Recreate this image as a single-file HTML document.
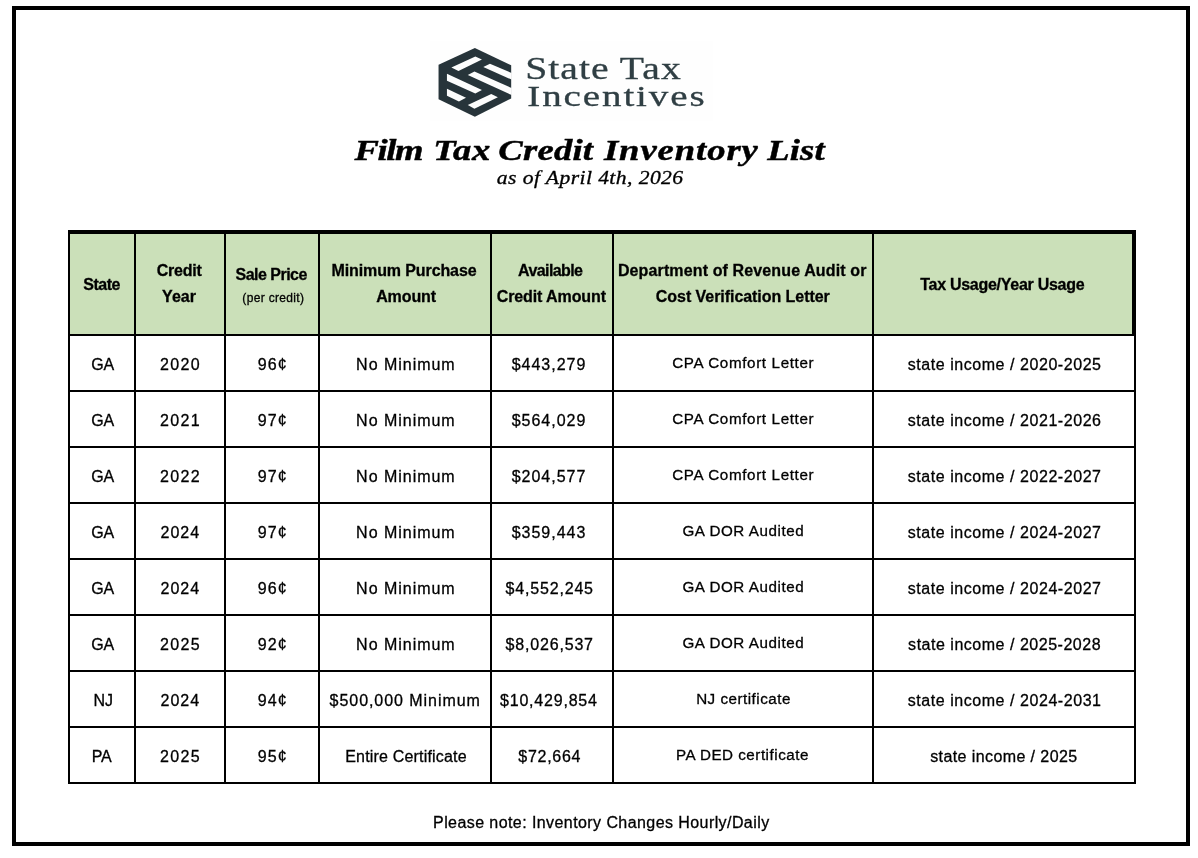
<!DOCTYPE html>
<html lang="en"><head><meta charset="utf-8"><title>Film Tax Credit Inventory List</title>
<style>
html,body{margin:0;padding:0;background:#fff;}
body{width:1198px;height:858px;position:relative;overflow:hidden;font-family:'Liberation Sans',sans-serif;color:#000;}
.t{position:absolute;width:700px;box-sizing:border-box;text-align:center;white-space:nowrap;}
.txt{position:absolute;left:0;top:0;width:1198px;height:858px;will-change:transform;-webkit-text-stroke:0.3px #000;}
.r{position:absolute;background:#000;}
.frame{position:absolute;left:12px;top:6px;width:1178px;height:840px;border:4px solid #000;box-sizing:border-box;}
</style></head><body>
<div class="frame"></div>
<div class="r" style="left:430px;top:41px;width:283px;height:80px;background:#fefefe"></div>
<svg class="r" style="left:435px;top:44px;background:none" width="80" height="76" viewBox="0 0 903 858">
<polygon points="450,45 860,240 860,615 450,820 40,625 40,235" fill="#27343a"/>
<g fill="#fdfdfd">
<polygon points="185,265 455,140 530,175 265,305"/>
<polygon points="545,260 620,222 865,327 865,402"/>
<polygon points="370,350 445,310 865,497 865,577"/>
<polygon points="135,335 530,520 455,560 135,415"/>
<polygon points="135,505 350,608 270,650 135,585"/>
<polygon points="370,690 635,565 710,600 445,730"/>
</g></svg>
<div class="r" style="left:70px;top:234px;width:1062px;height:100px;background:#cbe0b9"></div>
<div class="r" style="left:68px;top:230px;width:1068px;height:4px"></div>
<div class="r" style="left:68px;top:334px;width:1068px;height:2px"></div>
<div class="r" style="left:68px;top:390px;width:1068px;height:2px"></div>
<div class="r" style="left:68px;top:446px;width:1068px;height:2px"></div>
<div class="r" style="left:68px;top:502px;width:1068px;height:2px"></div>
<div class="r" style="left:68px;top:558px;width:1068px;height:2px"></div>
<div class="r" style="left:68px;top:614px;width:1068px;height:2px"></div>
<div class="r" style="left:68px;top:670px;width:1068px;height:2px"></div>
<div class="r" style="left:68px;top:726px;width:1068px;height:2px"></div>
<div class="r" style="left:68px;top:782px;width:1068px;height:2px"></div>
<div class="r" style="left:68px;top:230px;width:2px;height:554px"></div>
<div class="r" style="left:134px;top:230px;width:2px;height:554px"></div>
<div class="r" style="left:224px;top:230px;width:2px;height:554px"></div>
<div class="r" style="left:318px;top:230px;width:2px;height:554px"></div>
<div class="r" style="left:490px;top:230px;width:2px;height:554px"></div>
<div class="r" style="left:612px;top:230px;width:2px;height:554px"></div>
<div class="r" style="left:872px;top:230px;width:2px;height:554px"></div>
<div class="r" style="left:1134px;top:230px;width:2px;height:554px"></div>
<div class="r" style="left:1132px;top:230px;width:4px;height:106px"></div>
<div class="txt">
<div class="t" style="left:253.40px;top:46.61px;line-height:44px;font-size:30.5px;font-family:'Liberation Serif', serif;color:#303f44;letter-spacing:0.786px;padding-left:0.786px;transform:scaleX(1.3);-webkit-text-stroke:0.3px #303f44;">State Tax</div>
<div class="t" style="left:266.05px;top:74.17px;line-height:44px;font-size:30px;font-family:'Liberation Serif', serif;color:#303f44;letter-spacing:1.452px;padding-left:1.452px;transform:scaleX(1.3);-webkit-text-stroke:0.3px #303f44;">Incentives</div>
<div class="t" style="left:239.80px;top:127.57px;line-height:44px;font-size:30px;font-weight:700;font-family:'Liberation Serif', serif;font-style:italic;transform:scaleX(1.22);-webkit-text-stroke:0.45px #000;"><span style="position:relative;left:-0.59px;letter-spacing:-1.154px">Film</span> <span style="position:relative;left:0.96px;letter-spacing:0.593px">Tax</span> <span style="position:relative;left:-0.52px;letter-spacing:0.174px">Credit</span> <span style="position:relative;left:0.81px;letter-spacing:0.773px">Inventory</span> <span style="position:relative;left:0.15px;letter-spacing:0.156px">List</span></div>
<div class="t" style="left:240.00px;top:165.52px;line-height:24px;font-size:18px;font-family:'Liberation Serif', serif;letter-spacing:0.353px;padding-left:0.353px;font-style:italic;transform:scaleX(1.2);">as of April 4th, 2026</div>
<div class="t" style="left:-248.35px;top:272.96px;line-height:24px;font-size:16px;font-weight:700;letter-spacing:-0.5px;">State</div>
<div class="t" style="left:-170.80px;top:258.86px;line-height:24px;font-size:16px;font-weight:700;letter-spacing:-0.24px;">Credit</div>
<div class="t" style="left:-171.00px;top:284.86px;line-height:24px;font-size:16px;font-weight:700;">Year</div>
<div class="t" style="left:-78.80px;top:263.16px;line-height:24px;font-size:16px;font-weight:700;letter-spacing:-0.533px;">Sale Price</div>
<div class="t" style="left:-76.80px;top:286.24px;line-height:24px;font-size:12px;letter-spacing:0.334px;padding-left:0.334px;">(per credit)</div>
<div class="t" style="left:54.00px;top:258.66px;line-height:24px;font-size:16px;font-weight:700;letter-spacing:-0.107px;">Minimum Purchase</div>
<div class="t" style="left:56.10px;top:284.66px;line-height:24px;font-size:16px;font-weight:700;letter-spacing:-0.096px;">Amount</div>
<div class="t" style="left:200.25px;top:258.66px;line-height:24px;font-size:16px;font-weight:700;letter-spacing:-0.6px;">Available</div>
<div class="t" style="left:201.30px;top:284.66px;line-height:24px;font-size:16px;font-weight:700;letter-spacing:-0.107px;">Credit Amount</div>
<div class="t" style="left:392.15px;top:258.56px;line-height:24px;font-size:16px;font-weight:700;letter-spacing:0.127px;padding-left:0.127px;">Department of Revenue Audit or</div>
<div class="t" style="left:392.80px;top:284.86px;line-height:24px;font-size:16px;font-weight:700;letter-spacing:-0.052px;">Cost Verification Letter</div>
<div class="t" style="left:652.30px;top:273.16px;line-height:24px;font-size:16px;font-weight:700;letter-spacing:-0.269px;">Tax Usage/Year Usage</div>
<div class="t" style="left:-247.30px;top:353.06px;line-height:24px;font-size:16px;letter-spacing:-0.2px;">GA</div>
<div class="t" style="left:-170.20px;top:353.06px;line-height:24px;font-size:16px;letter-spacing:1.4px;padding-left:1.4px;">2020</div>
<div class="t" style="left:-77.80px;top:353.06px;line-height:24px;font-size:16px;letter-spacing:1.2px;padding-left:1.2px;">96¢</div>
<div class="t" style="left:55.40px;top:353.06px;line-height:24px;font-size:16px;letter-spacing:0.973px;padding-left:0.973px;">No Minimum</div>
<div class="t" style="left:198.50px;top:353.06px;line-height:24px;font-size:16px;letter-spacing:1.0px;padding-left:1.0px;">$443,279</div>
<div class="t" style="left:392.90px;top:350.83px;line-height:24px;font-size:15.2px;letter-spacing:0.639px;padding-left:0.639px;">CPA Comfort Letter</div>
<div class="t" style="left:654.35px;top:353.06px;line-height:24px;font-size:16px;letter-spacing:0.555px;padding-left:0.555px;">state income / 2020-2025</div>
<div class="t" style="left:-247.30px;top:409.06px;line-height:24px;font-size:16px;letter-spacing:-0.2px;">GA</div>
<div class="t" style="left:-170.20px;top:409.06px;line-height:24px;font-size:16px;letter-spacing:1.4px;padding-left:1.4px;">2021</div>
<div class="t" style="left:-77.80px;top:409.06px;line-height:24px;font-size:16px;letter-spacing:1.2px;padding-left:1.2px;">97¢</div>
<div class="t" style="left:55.40px;top:409.06px;line-height:24px;font-size:16px;letter-spacing:0.973px;padding-left:0.973px;">No Minimum</div>
<div class="t" style="left:198.50px;top:409.06px;line-height:24px;font-size:16px;letter-spacing:1.0px;padding-left:1.0px;">$564,029</div>
<div class="t" style="left:392.90px;top:406.83px;line-height:24px;font-size:15.2px;letter-spacing:0.639px;padding-left:0.639px;">CPA Comfort Letter</div>
<div class="t" style="left:654.35px;top:409.06px;line-height:24px;font-size:16px;letter-spacing:0.555px;padding-left:0.555px;">state income / 2021-2026</div>
<div class="t" style="left:-247.30px;top:465.06px;line-height:24px;font-size:16px;letter-spacing:-0.2px;">GA</div>
<div class="t" style="left:-170.20px;top:465.06px;line-height:24px;font-size:16px;letter-spacing:1.4px;padding-left:1.4px;">2022</div>
<div class="t" style="left:-77.80px;top:465.06px;line-height:24px;font-size:16px;letter-spacing:1.2px;padding-left:1.2px;">97¢</div>
<div class="t" style="left:55.40px;top:465.06px;line-height:24px;font-size:16px;letter-spacing:0.973px;padding-left:0.973px;">No Minimum</div>
<div class="t" style="left:198.50px;top:465.06px;line-height:24px;font-size:16px;letter-spacing:1.0px;padding-left:1.0px;">$204,577</div>
<div class="t" style="left:392.90px;top:462.83px;line-height:24px;font-size:15.2px;letter-spacing:0.639px;padding-left:0.639px;">CPA Comfort Letter</div>
<div class="t" style="left:654.35px;top:465.06px;line-height:24px;font-size:16px;letter-spacing:0.555px;padding-left:0.555px;">state income / 2022-2027</div>
<div class="t" style="left:-247.30px;top:521.06px;line-height:24px;font-size:16px;letter-spacing:-0.2px;">GA</div>
<div class="t" style="left:-170.20px;top:521.06px;line-height:24px;font-size:16px;letter-spacing:0.973px;padding-left:0.973px;">2024</div>
<div class="t" style="left:-77.80px;top:521.06px;line-height:24px;font-size:16px;letter-spacing:1.2px;padding-left:1.2px;">97¢</div>
<div class="t" style="left:55.40px;top:521.06px;line-height:24px;font-size:16px;letter-spacing:0.973px;padding-left:0.973px;">No Minimum</div>
<div class="t" style="left:198.50px;top:521.06px;line-height:24px;font-size:16px;letter-spacing:1.0px;padding-left:1.0px;">$359,443</div>
<div class="t" style="left:393.05px;top:518.83px;line-height:24px;font-size:15.2px;letter-spacing:0.565px;padding-left:0.565px;">GA DOR Audited</div>
<div class="t" style="left:654.35px;top:521.06px;line-height:24px;font-size:16px;letter-spacing:0.555px;padding-left:0.555px;">state income / 2024-2027</div>
<div class="t" style="left:-247.30px;top:577.06px;line-height:24px;font-size:16px;letter-spacing:-0.2px;">GA</div>
<div class="t" style="left:-170.20px;top:577.06px;line-height:24px;font-size:16px;letter-spacing:0.973px;padding-left:0.973px;">2024</div>
<div class="t" style="left:-77.80px;top:577.06px;line-height:24px;font-size:16px;letter-spacing:1.2px;padding-left:1.2px;">96¢</div>
<div class="t" style="left:55.40px;top:577.06px;line-height:24px;font-size:16px;letter-spacing:0.973px;padding-left:0.973px;">No Minimum</div>
<div class="t" style="left:199.30px;top:577.06px;line-height:24px;font-size:16px;letter-spacing:0.822px;padding-left:0.822px;">$4,552,245</div>
<div class="t" style="left:393.05px;top:574.83px;line-height:24px;font-size:15.2px;letter-spacing:0.565px;padding-left:0.565px;">GA DOR Audited</div>
<div class="t" style="left:654.35px;top:577.06px;line-height:24px;font-size:16px;letter-spacing:0.555px;padding-left:0.555px;">state income / 2024-2027</div>
<div class="t" style="left:-247.30px;top:633.06px;line-height:24px;font-size:16px;letter-spacing:-0.2px;">GA</div>
<div class="t" style="left:-170.20px;top:633.06px;line-height:24px;font-size:16px;letter-spacing:1.4px;padding-left:1.4px;">2025</div>
<div class="t" style="left:-77.80px;top:633.06px;line-height:24px;font-size:16px;letter-spacing:1.2px;padding-left:1.2px;">92¢</div>
<div class="t" style="left:55.40px;top:633.06px;line-height:24px;font-size:16px;letter-spacing:0.973px;padding-left:0.973px;">No Minimum</div>
<div class="t" style="left:199.30px;top:633.06px;line-height:24px;font-size:16px;letter-spacing:0.822px;padding-left:0.822px;">$8,026,537</div>
<div class="t" style="left:393.05px;top:630.83px;line-height:24px;font-size:15.2px;letter-spacing:0.565px;padding-left:0.565px;">GA DOR Audited</div>
<div class="t" style="left:654.35px;top:633.06px;line-height:24px;font-size:16px;letter-spacing:0.517px;padding-left:0.517px;">state income / 2025-2028</div>
<div class="t" style="left:-246.80px;top:689.06px;line-height:24px;font-size:16px;">NJ</div>
<div class="t" style="left:-170.20px;top:689.06px;line-height:24px;font-size:16px;letter-spacing:0.973px;padding-left:0.973px;">2024</div>
<div class="t" style="left:-77.80px;top:689.06px;line-height:24px;font-size:16px;letter-spacing:1.2px;padding-left:1.2px;">94¢</div>
<div class="t" style="left:54.75px;top:689.06px;line-height:24px;font-size:16px;letter-spacing:0.947px;padding-left:0.947px;">$500,000 Minimum</div>
<div class="t" style="left:198.50px;top:689.06px;line-height:24px;font-size:16px;letter-spacing:0.792px;padding-left:0.792px;">$10,429,854</div>
<div class="t" style="left:393.25px;top:686.83px;line-height:24px;font-size:15.2px;letter-spacing:0.497px;padding-left:0.497px;">NJ certificate</div>
<div class="t" style="left:654.35px;top:689.06px;line-height:24px;font-size:16px;letter-spacing:0.555px;padding-left:0.555px;">state income / 2024-2031</div>
<div class="t" style="left:-248.35px;top:745.06px;line-height:24px;font-size:16px;letter-spacing:-0.12px;">PA</div>
<div class="t" style="left:-170.20px;top:745.06px;line-height:24px;font-size:16px;letter-spacing:1.4px;padding-left:1.4px;">2025</div>
<div class="t" style="left:-77.80px;top:745.06px;line-height:24px;font-size:16px;letter-spacing:1.2px;padding-left:1.2px;">95¢</div>
<div class="t" style="left:55.95px;top:745.06px;line-height:24px;font-size:16px;letter-spacing:0.182px;padding-left:0.182px;">Entire Certificate</div>
<div class="t" style="left:199.40px;top:745.06px;line-height:24px;font-size:16px;letter-spacing:0.732px;padding-left:0.732px;">$72,664</div>
<div class="t" style="left:392.15px;top:742.83px;line-height:24px;font-size:15.2px;letter-spacing:0.512px;padding-left:0.512px;">PA DED certificate</div>
<div class="t" style="left:653.65px;top:745.06px;line-height:24px;font-size:16px;letter-spacing:0.41px;padding-left:0.41px;">state income / 2025</div>
<div class="t" style="left:251.10px;top:810.96px;line-height:24px;font-size:16px;letter-spacing:0.422px;padding-left:0.422px;">Please note: Inventory Changes Hourly/Daily</div>
</div>
</body></html>
